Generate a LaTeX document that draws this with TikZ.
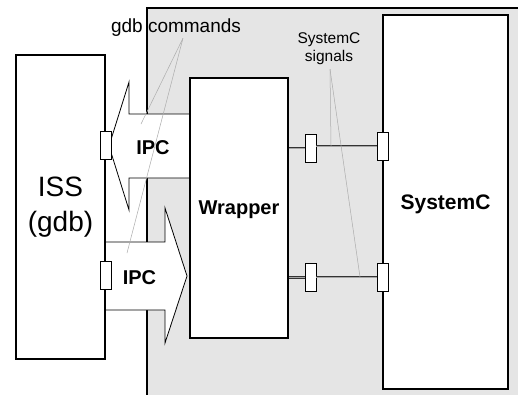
\documentclass[tikz,border=0pt]{standalone}
\usepackage{fontspec}
\setmainfont{Liberation Sans}
\usetikzlibrary{positioning,calc}

\begin{document}
\begin{tikzpicture}[x=1pt, y=-1pt,
  box/.style={draw, fill=white, line width=1.2pt, inner sep=0pt, align=center},
  port/.style={draw, fill=white, line width=0.8pt, inner sep=0pt, minimum width=11pt, minimum height=28pt},
  ipc/.style={draw, fill=white, line width=0.8pt, line join=miter},
  sig/.style={draw=black!80, double=gray!70, double distance=1pt, line width=0.7pt},
  lbl/.style={inner sep=0pt, font=\fontsize{20}{24}\selectfont\bfseries},
  note/.style={draw=gray!65, line width=0.5pt},
]
\clip (0,0) rectangle (518,394);
\fill[white] (0,0) rectangle (518,394);
% simulation side
\fill[gray!20] (147,8) rectangle (530,400);
\draw[line width=2pt] (147,400) -- (147,8) -- (530,8);

% IPC channels
\draw[ipc] (109,146) -- (129,82) -- (129,114) -- (190,114) -- (190,178) -- (129,178) -- (129,210) -- cycle;
\draw[ipc] (187,276) -- (165,343) -- (165,310) -- (105,310) -- (105,242) -- (165,242) -- (165,208) -- cycle;

\node[box, minimum width=89pt, minimum height=304pt, font=\fontsize{28}{35}\selectfont] (iss) at (60.5,207) {ISS\\(gdb)};
\node[box, minimum width=98pt, minimum height=260pt, text depth=0pt, font=\fontsize{20}{24}\selectfont\bfseries] (wrapper) at (239,208) {Wrapper};
\node[box, minimum width=125pt, minimum height=374pt, text depth=0pt, font=\fontsize{21}{25}\selectfont\bfseries] (systemc) at (445.5,202) {SystemC};

\node[lbl] (ipcin) at (153,147.5) {IPC};
\node[lbl] (ipcout) at (139.5,277.5) {IPC};

% ports
\node[port] (ip1) at (iss.east |- 0,145) {};
\node[port] (ip2) at (iss.east |- 0,275) {};
\node[port] (wp1) at (310.5,148) {};
\node[port] (wp2) at (310.5,277.5) {};
\node[port] (sp1) at (systemc.west |- 0,146) {};
\node[port] (sp2) at (systemc.west |- 0,277) {};

\draw[sig] (wrapper.east |- wp1) -- (wp1);
\draw[sig] (wp1.east |- sp1) -- (sp1);
\draw[sig] (wrapper.east |- wp2) -- (wp2);
\draw[sig] (wp2.east |- sp2) -- (sp2);

% labels
\node[inner sep=0pt, anchor=base, font=\fontsize{19}{22}\selectfont] (gdbcmd) at (176,32) {gdb commands};
\node[inner sep=0pt, align=center, font=\fontsize{15.5}{18}\selectfont] (sigtxt) at (329,49) {SystemC\\signals};

\coordinate (gdbin) at (141,124);
\coordinate (gdbout) at (127,253);
\coordinate (sig1) at (331,146);
\coordinate (sig2) at (360,277);
\draw[note] ([xshift=7pt, yshift=-2pt]gdbcmd.south) -- (gdbin);
\draw[note] ([xshift=7pt, yshift=-2pt]gdbcmd.south) -- (gdbout);
\draw[note] ([xshift=1pt, yshift=-4pt]sigtxt.south) -- (sig1);
\draw[note] ([xshift=1pt, yshift=-4pt]sigtxt.south) -- (sig2);
\end{tikzpicture}
\end{document}
